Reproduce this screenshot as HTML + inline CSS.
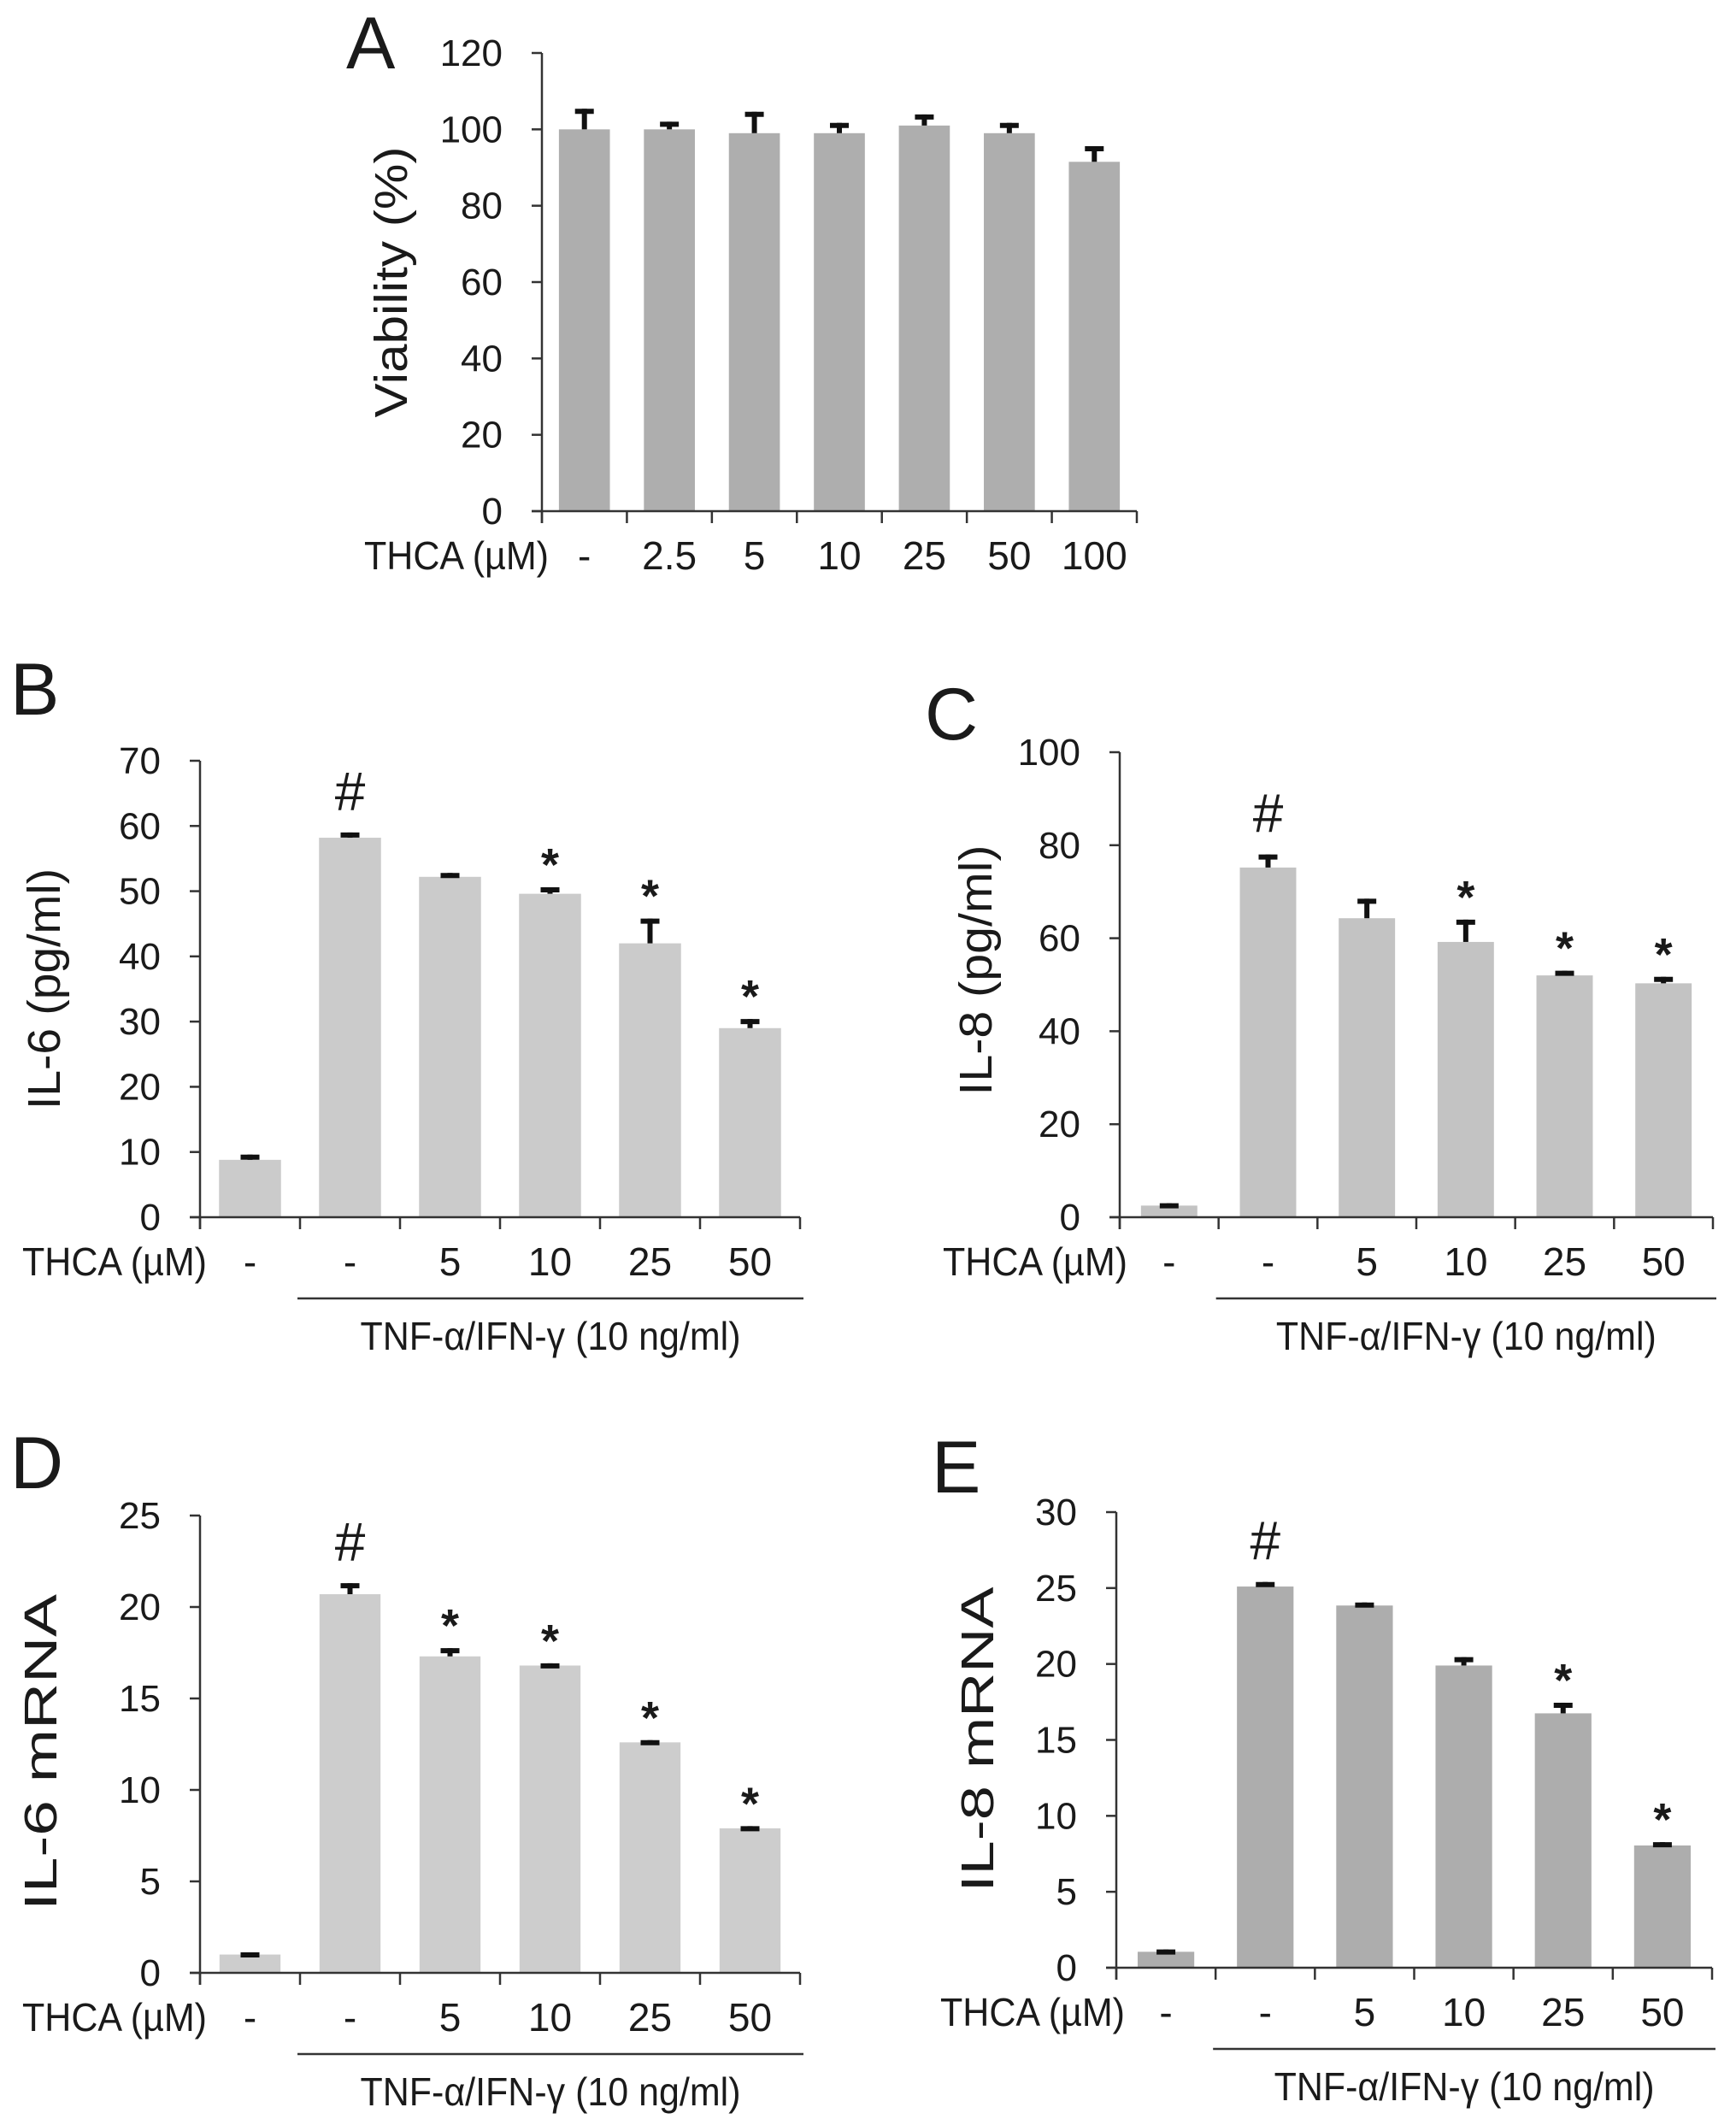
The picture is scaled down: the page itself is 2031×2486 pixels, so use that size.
<!DOCTYPE html>
<html>
<head>
<meta charset="utf-8">
<style>
  html, body { margin: 0; padding: 0; background: #ffffff; }
  svg { display: block; }
  text { font-family: "Liberation Sans", Arial, sans-serif; fill: #1a1a1a; }
</style>
</head>
<body>
<svg id="fig" xmlns="http://www.w3.org/2000/svg" width="2031" height="2486" viewBox="0 0 2031 2486"></svg>
<script>
// ---- Panel A data ----
const catsA = ["-", "2.5", "5", "10", "25", "50", "100"];
const valsA = [100, 100, 99, 99, 101, 99, 91.5];
const errsA = [5.4, 2, 5.6, 2.7, 2.9, 2.7, 4.1];
const marksA = ["", "", "", "", "", "", ""];
const ticksA = [0, 20, 40, 60, 80, 100, 120];

// ---- Panel B data ----
const catsB = ["-", "-", "5", "10", "25", "50"];
const valsB = [8.8, 58.2, 52.2, 49.6, 42, 29];
const errsB = [0.8, 0.8, 0.6, 1.0, 3.8, 1.4];
const marksB = ["", "#", "", "*", "*", "*"];
const ticksB = [0, 10, 20, 30, 40, 50, 60, 70];

// ---- Panel C data ----
const catsC = ["-", "-", "5", "10", "25", "50"];
const valsC = [2.5, 75.2, 64.3, 59.2, 52, 50.3];
const errsC = [0.5, 2.8, 4.2, 4.8, 1.0, 1.4];
const marksC = ["", "#", "", "*", "*", "*"];
const ticksC = [0, 20, 40, 60, 80, 100];

// ---- Panel D data ----
const catsD = ["-", "-", "5", "10", "25", "50"];
const valsD = [1.0, 20.7, 17.3, 16.8, 12.6, 7.9];
const errsD = [0.12, 0.6, 0.45, 0.12, 0.12, 0.12];
const marksD = ["", "#", "*", "*", "*", "*"];
const ticksD = [0, 5, 10, 15, 20, 25];

// ---- Panel E data ----
const catsE = ["-", "-", "5", "10", "25", "50"];
const valsE = [1.05, 25.1, 23.85, 19.9, 16.75, 8.05];
const errsE = [0.15, 0.3, 0.2, 0.55, 0.7, 0.22];
const marksE = ["", "#", "", "", "*", "*"];
const ticksE = [0, 5, 10, 15, 20, 25, 30];

const NS = "http://www.w3.org/2000/svg";
const svg = document.getElementById("fig");

function mk(tag, attrs, parent, txt) {
  const e = document.createElementNS(NS, tag);
  for (const k in attrs) e.setAttribute(k, attrs[k]);
  if (txt !== undefined) e.textContent = txt;
  (parent || svg).appendChild(e);
  return e;
}

function panel(cfg, cats, vals, errs, marks, ticks) {
  const g = mk("g", {});
  
  
  const max = ticks[ticks.length - 1];
  const yS = v => cfg.y0 - (v / max) * (cfg.y0 - cfg.yTop);
  const cw = (cfg.x1 - cfg.ox) / cats.length;
  const xC = i => cfg.ox + cw * (i + 0.5);

  const L = mk("text", {x: cfg.lx, y: cfg.ly, "font-size": 86}, g, cfg.letter);
  
  

  vals.forEach((v, i) => {
    const bw = cw * cfg.bw;
    const b = mk("rect", {x: xC(i) - bw / 2, y: yS(v), width: bw, height: cfg.y0 - yS(v), fill: cfg.color}, g);
    
    
    const top = yS(v + errs[i]);
    const eb = mk("g", {}, g);
    
    
    mk("line", {x1: xC(i), x2: xC(i), y1: yS(v), y2: top, stroke: "#111", "stroke-width": 6}, eb);
    mk("line", {x1: xC(i) - 11, x2: xC(i) + 11, y1: top + 3, y2: top + 3, stroke: "#111", "stroke-width": 6}, eb);
    if (marks[i]) {
      const isHash = marks[i] === "#";
      const m = mk("text", {x: xC(i), y: isHash ? top - 26 : top - 8, "font-size": isHash ? 64 : 54, "font-weight": isHash ? "normal" : "bold", "text-anchor": "middle"}, g, marks[i]);
      
      
    }
  });

  const ya = mk("line", {x1: cfg.ox, x2: cfg.ox, y1: yS(max), y2: cfg.y0 + 14, stroke: "#333", "stroke-width": 2.5}, g);
  
  
  const xa = mk("line", {x1: cfg.ox - 12, x2: cfg.x1, y1: cfg.y0, y2: cfg.y0, stroke: "#333", "stroke-width": 2.5}, g);
  
  

  ticks.forEach(t => {
    mk("line", {x1: cfg.ox - 12, x2: cfg.ox, y1: yS(t), y2: yS(t), stroke: "#333", "stroke-width": 2.5}, g);
    const tl = mk("text", {x: cfg.ox - 46, y: yS(t) + 15, "font-size": 44, "text-anchor": "end"}, g, String(t));
    
    
  });
  for (let i = 0; i <= cats.length; i++) {
    const x = cfg.ox + cw * i;
    mk("line", {x1: x, x2: x, y1: cfg.y0, y2: cfg.y0 + 14, stroke: "#333", "stroke-width": 2.5}, g);
  }
  cats.forEach((c, i) => {
    const cl = mk("text", {x: xC(i), y: cfg.y0 + 68, "font-size": 46, "text-anchor": "middle"}, g, c);
    
    
  });

  const th = mk("text", {x: cfg.thx, y: cfg.y0 + 68, "font-size": 46, textLength: 216, lengthAdjust: "spacingAndGlyphs"}, g, "THCA (\u00b5M)");
  
  

  const yt = mk("text", {x: 0, y: 0, "font-size": 54, "text-anchor": "middle", textLength: cfg.tlen, lengthAdjust: "spacingAndGlyphs",
    transform: `translate(${cfg.tx},${cfg.ty}) rotate(-90)`}, g, cfg.title);
  
  

  if (cfg.group) {
    const gx1 = cfg.ox + cw - 3, gx2 = cfg.x1 + 4;
    const gl = mk("line", {x1: gx1, x2: gx2, y1: cfg.y0 + 95, y2: cfg.y0 + 95, stroke: "#333", "stroke-width": 2.5}, g);
    
    
    const gt = mk("text", {x: (gx1 + gx2) / 2, y: cfg.y0 + 155, "font-size": 46, "text-anchor": "middle", textLength: 445, lengthAdjust: "spacingAndGlyphs"}, g, "TNF-\u03b1/IFN-\u03b3 (10 ng/ml)");
    
    
  }
}

panel({id: "panel-a", letter: "A", lx: 405, ly: 80, ox: 634, x1: 1330, y0: 598, yTop: 62, bw: 0.6, color: "#aeaeae",
       thx: 426, title: "Viability (%)", tx: 476, ty: 330, tlen: 317, group: false},
      catsA, valsA, errsA, marksA, ticksA);
panel({id: "panel-b", letter: "B", lx: 12, ly: 836, ox: 234, x1: 936, y0: 1424, yTop: 890, bw: 0.62, color: "#cbcbcb",
       thx: 26, title: "IL-6  (pg/ml)", tx: 70, ty: 1157, tlen: 282, group: true},
      catsB, valsB, errsB, marksB, ticksB);
panel({id: "panel-c", letter: "C", lx: 1082, ly: 865, ox: 1310, x1: 2004, y0: 1424, yTop: 880, bw: 0.57, color: "#c3c3c3",
       thx: 1103, title: "IL-8  (pg/ml)", tx: 1160, ty: 1135, tlen: 293, group: true},
      catsC, valsC, errsC, marksC, ticksC);
panel({id: "panel-d", letter: "D", lx: 12, ly: 1741, ox: 234, x1: 936, y0: 2308, yTop: 1773, bw: 0.61, color: "#cdcdcd",
       thx: 26, title: "IL-6 mRNA", tx: 66, ty: 2050, tlen: 370, group: true},
      catsD, valsD, errsD, marksD, ticksD);
panel({id: "panel-e", letter: "E", lx: 1090, ly: 1746, ox: 1306, x1: 2003, y0: 2302, yTop: 1769, bw: 0.57, color: "#adadad",
       thx: 1100, title: "IL-8 mRNA", tx: 1162, ty: 2035, tlen: 357, group: true},
      catsE, valsE, errsE, marksE, ticksE);
</script>
</body>
</html>
